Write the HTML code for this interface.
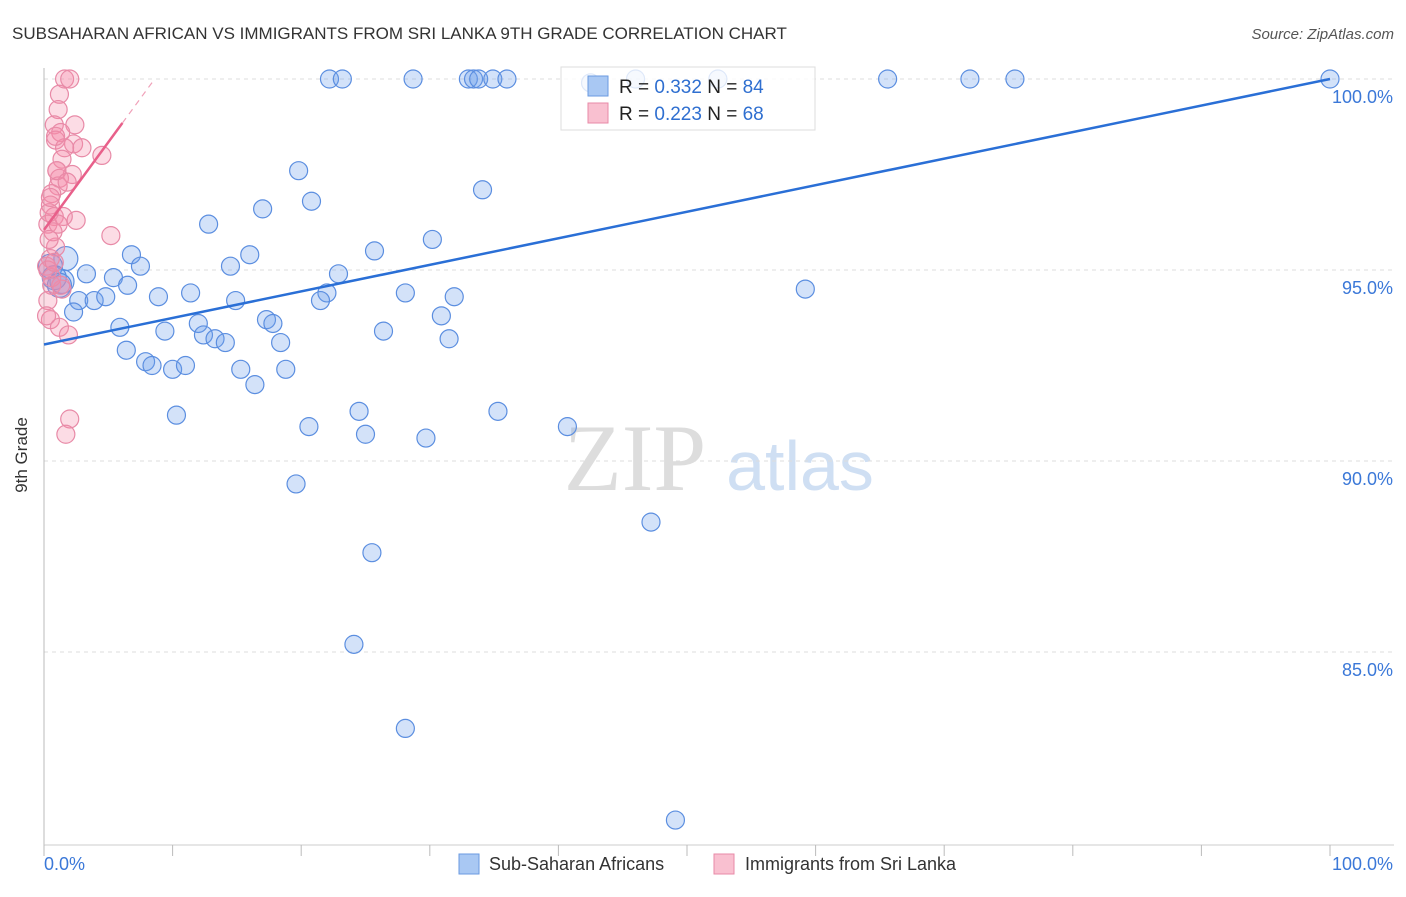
<!DOCTYPE html>
<html><head><meta charset="utf-8"><style>
body{margin:0;background:#fff;font-family:"Liberation Sans",sans-serif}
</style></head><body>
<svg id="c" width="1406" height="892" xmlns="http://www.w3.org/2000/svg" style="font-family:'Liberation Sans',sans-serif">
<text x="12" y="39" font-size="17" fill="#333">SUBSAHARAN AFRICAN VS IMMIGRANTS FROM SRI LANKA 9TH GRADE CORRELATION CHART</text>
<text x="1394" y="39" font-size="15" fill="#555" font-style="italic" text-anchor="end">Source: ZipAtlas.com</text>
<text x="27" y="455" font-size="17" fill="#333" text-anchor="middle" transform="rotate(-90 27 455)">9th Grade</text>
<g><text x="635" y="490" font-size="95" fill="#ddd" font-family="Liberation Serif" text-anchor="middle">ZIP</text><text x="800" y="490" font-size="70" fill="#cfdff3" text-anchor="middle">atlas</text></g>
<g id="grid"></g><g id="axes"></g><g id="pts"></g><g id="lines"></g>
<g>
<rect x="561" y="67" width="254" height="63" fill="#fff" fill-opacity="0.8" stroke="#ddd"/>
<rect x="588" y="76" width="20" height="20" fill="#a9c8f3" stroke="#6a9ae0"/>
<rect x="588" y="103" width="20" height="20" fill="#f9c0d0" stroke="#e88aa7"/>
<text x="619" y="93" font-size="19" fill="#222">R = <tspan fill="#2f6fd0">0.332</tspan>   N = <tspan fill="#2f6fd0">84</tspan></text>
<text x="619" y="120" font-size="19" fill="#222">R = <tspan fill="#2f6fd0">0.223</tspan>   N = <tspan fill="#2f6fd0">68</tspan></text>
</g>
<g>
<rect x="459" y="854" width="20" height="20" fill="#a9c8f3" stroke="#6a9ae0"/>
<text x="489" y="870" font-size="18" fill="#333">Sub-Saharan Africans</text>
<rect x="714" y="854" width="20" height="20" fill="#f9c0d0" stroke="#e88aa7"/>
<text x="745" y="870" font-size="18" fill="#333">Immigrants from Sri Lanka</text>
</g>
</svg>
<script>
const yTicks=[100,95,90,85];
const yTickLabels=["100.0%","95.0%","90.0%","85.0%"];
const xTickVals=[0,10,20,30,40,50,60,70,80,90,100];
const blueX=[22.2,23.2,28.7,33,33.4,33.8,34.9,36,42.5,46,52.4,65.6,72,75.5,100,19.8,20.8,17,34.1,12.8,30.2,25.7,16,6.8,1.7,7.5,14.5,22.9,3.3,5.4,1.4,59.2,6.5,8.9,11.4,22,28.1,2.7,3.9,4.8,14.9,21.5,31.9,2.3,30.9,5.9,9.4,12,17.3,17.8,26.4,12.4,13.3,14.1,18.4,31.5,6.4,7.9,8.4,10,11,15.3,18.8,16.4,10.3,24.5,35.3,20.6,25,29.7,40.7,19.6,47.2,25.5,24.1,28.1,49.1,0.5,0.8,1.2];
const blueY=[100,100,100,100,100,100,100,100,99.9,100,100,100,100,100,100,97.6,96.8,96.6,97.1,96.2,95.8,95.5,95.4,95.4,95.3,95.1,95.1,94.9,94.9,94.8,94.7,94.5,94.6,94.3,94.4,94.4,94.4,94.2,94.2,94.3,94.2,94.2,94.3,93.9,93.8,93.5,93.4,93.6,93.7,93.6,93.4,93.3,93.2,93.1,93.1,93.2,92.9,92.6,92.5,92.4,92.5,92.4,92.4,92,91.2,91.3,91.3,90.9,90.7,90.6,90.9,89.4,88.4,87.6,85.2,83,80.6,95.1,94.8,94.6];
const pinkX=[1.6,2,1.2,1.1,0.8,2.4,1.3,0.9,2.3,2.95,1.6,4.5,1.4,1,2.2,1.2,1.1,0.6,0.5,0.8,2.5,1.5,0.3,5.2,0.9,0.5,0.2,0.6,1.4,0.3,0.5,1.2,1.9,2,1.7,0.4,0.7,1.0,0.3,0.6,1.3,0.8,0.2,0.5,1.8,0.4,0.9,1.1];
const pinkY=[100,100,99.6,99.2,98.8,98.8,98.6,98.4,98.3,98.2,98.2,98,97.9,97.6,97.5,97.4,97.2,97,96.7,96.4,96.3,96.4,96.2,95.9,95.6,95.3,95.1,94.6,94.5,94.2,93.7,93.5,93.3,91.1,90.7,96.5,96.0,97.6,95.0,94.8,94.6,95.2,93.8,96.9,97.3,95.8,98.5,96.2];
const blueFit=[93.05,100];
const pinkFit=[96.05,98.85,6.1,8.6];
const sx=v=>44+v*12.86, sy=v=>79+(100-v)*38.2;
const NS="http://www.w3.org/2000/svg";
function mk(tag,attrs,parent){const e=document.createElementNS(NS,tag);for(const k in attrs)e.setAttribute(k,attrs[k]);document.getElementById(parent).appendChild(e);return e;}
yTicks.forEach((t,i)=>{
 const g=mk('line',{x1:44,x2:1394,y1:sy(t),y2:sy(t),stroke:'#ddd','stroke-dasharray':'4,4'},'grid');
 
 
 const l=mk('text',{x:1393,y:sy(t)+24,'font-size':18,fill:'#3b78d8','text-anchor':'end'},'grid');
 l.textContent=yTickLabels[i];
 
 
});
const ax=mk('line',{x1:44,x2:44,y1:68,y2:845,stroke:'#bbb'},'axes');


const bx=mk('line',{x1:44,x2:1394,y1:845,y2:845,stroke:'#ccc'},'axes');


xTickVals.forEach(v=>{const t=mk('line',{x1:sx(v),x2:sx(v),y1:845,y2:856,stroke:'#bbb'},'axes');
 
 });
const x0=mk('text',{x:44,y:870,'font-size':18,fill:'#3b78d8'},'axes');x0.textContent='0.0%';


const x1=mk('text',{x:1393,y:870,'font-size':18,fill:'#3b78d8','text-anchor':'end'},'axes');x1.textContent='100.0%';


blueX.forEach((v,i)=>{const c=mk('circle',{cx:sx(v),cy:sy(blueY[i]),r:(v<2?12:9),fill:'rgba(110,160,235,0.3)',stroke:'#5b8ee0','stroke-width':1.2},'pts');
 
 });
pinkX.forEach((v,i)=>{const c=mk('circle',{cx:sx(v),cy:sy(pinkY[i]),r:9,fill:'rgba(245,140,170,0.3)',stroke:'#e88aa7','stroke-width':1.2},'pts');
 
 });
const bl=mk('line',{x1:sx(0),y1:sy(blueFit[0]),x2:sx(100),y2:sy(blueFit[1]),stroke:'#2a6fd6','stroke-width':2.5},'lines');


const slope=(pinkFit[1]-pinkFit[0])/pinkFit[2];
const pl=mk('line',{x1:sx(0),y1:sy(pinkFit[0]),x2:sx(pinkFit[2]),y2:sy(pinkFit[1]),stroke:'#e8608a','stroke-width':2.5},'lines');


const pd=mk('line',{x1:sx(pinkFit[2]),y1:sy(pinkFit[1]),x2:sx(pinkFit[3]),y2:sy(pinkFit[0]+slope*pinkFit[3]),stroke:'#f0a0b8','stroke-width':1.2,'stroke-dasharray':'6,5'},'lines');


</script>
</body></html>
